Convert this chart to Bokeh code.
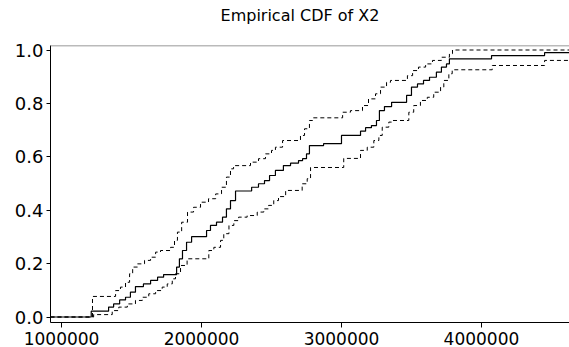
from bokeh.plotting import figure
from bokeh.models import FixedTicker, Span, Range1d, Div
from bokeh.layouts import column
from bokeh.embed import file_html
from bokeh.resources import INLINE

TITLE = "Empirical CDF of X2"
x_limits = [921000, 4629000]
y_limits = [-0.0206, 1.0169]
x_ticks = [1000000, 2000000, 3000000, 4000000]
x_tick_labels = ["1000000", "2000000", "3000000", "4000000"]
y_ticks = [0.0, 0.2, 0.4, 0.6, 0.8, 1.0]
y_tick_labels = ["0.0", "0.2", "0.4", "0.6", "0.8", "1.0"]

# empirical CDF (jump locations and level after each jump)
ecdf_x = [1212000, 1336000, 1372000, 1415000, 1457000, 1492000, 1528000, 1585000,
          1636000, 1686000, 1729000, 1822000, 1842000, 1864000, 1893000, 1929000,
          2036000, 2064000, 2107000, 2150000, 2178000, 2207000, 2243000, 2358000,
          2407000, 2450000, 2486000, 2528000, 2585000, 2636000, 2693000, 2722000,
          2750000, 2771000, 2872000, 3000000, 3136000, 3172000, 3214000, 3250000,
          3271000, 3307000, 3358000, 3465000, 3500000, 3543000, 3586000, 3629000,
          3678000, 3714000, 3750000, 3771000, 4072000, 4451000]
ecdf_y = [0.022, 0.037, 0.049, 0.064, 0.074, 0.093, 0.114, 0.124,
          0.137, 0.149, 0.159, 0.187, 0.218, 0.249, 0.280, 0.301,
          0.324, 0.343, 0.355, 0.374, 0.405, 0.436, 0.472, 0.486,
          0.499, 0.511, 0.530, 0.549, 0.567, 0.576, 0.586, 0.593,
          0.611, 0.642, 0.649, 0.680, 0.696, 0.709, 0.717, 0.736,
          0.773, 0.788, 0.804, 0.830, 0.861, 0.873, 0.886, 0.898,
          0.917, 0.936, 0.948, 0.967, 0.979, 0.990]

# upper confidence band
upper_x = [1221000, 1386000, 1421000, 1457000, 1486000, 1508000, 1543000, 1593000,
           1636000, 1672000, 1707000, 1779000, 1807000, 1828000, 1858000, 1900000,
           1943000, 1993000, 2050000, 2101000, 2143000, 2178000, 2207000, 2229000,
           2350000, 2407000, 2457000, 2500000, 2528000, 2579000, 2707000, 2736000,
           2771000, 2793000, 3008000, 3064000, 3150000, 3193000, 3243000, 3279000,
           3322000, 3350000, 3471000, 3508000, 3550000, 3601000, 3650000, 3714000,
           3771000, 3793000]
upper_y = [0.077, 0.099, 0.112, 0.130, 0.162, 0.187, 0.199, 0.212,
           0.224, 0.243, 0.249, 0.261, 0.287, 0.318, 0.355, 0.393,
           0.411, 0.430, 0.443, 0.461, 0.486, 0.524, 0.555, 0.567,
           0.580, 0.593, 0.611, 0.624, 0.636, 0.661, 0.680, 0.705,
           0.736, 0.746, 0.767, 0.773, 0.792, 0.817, 0.836, 0.861,
           0.879, 0.886, 0.904, 0.923, 0.936, 0.948, 0.961, 0.973,
           0.986, 1.000]

# lower confidence band
lower_x = [1229000, 1362000, 1409000, 1470000, 1528000, 1577000, 1623000, 1672000,
           1719000, 1755000, 1791000, 1814000, 1850000, 1897000, 2052000, 2088000,
           2136000, 2159000, 2196000, 2231000, 2265000, 2326000, 2398000, 2445000,
           2479000, 2516000, 2550000, 2601000, 2719000, 2755000, 2779000, 3016000,
           3136000, 3184000, 3231000, 3267000, 3291000, 3338000, 3364000, 3481000,
           3516000, 3564000, 3613000, 3659000, 3708000, 3731000, 3767000, 3791000,
           4077000, 4451000]
lower_y = [0.009, 0.024, 0.037, 0.049, 0.062, 0.074, 0.087, 0.099,
           0.112, 0.124, 0.143, 0.162, 0.193, 0.218, 0.249, 0.261,
           0.287, 0.312, 0.343, 0.361, 0.374, 0.380, 0.393, 0.405,
           0.418, 0.436, 0.451, 0.474, 0.499, 0.518, 0.560, 0.594,
           0.624, 0.636, 0.661, 0.680, 0.711, 0.730, 0.736, 0.767,
           0.792, 0.811, 0.823, 0.842, 0.861, 0.886, 0.911, 0.926,
           0.942, 0.961]

FONT = "DejaVu Sans"
TITLE_H = 32

title_div = Div(text=TITLE, width=538, height=TITLE_H, margin=(0, 0, 0, 31),
                styles={"font-family": FONT, "font-size": "16px", "color": "black",
                        "text-align": "center", "line-height": f"{TITLE_H}px"})

p = figure(width=569, height=347 - TITLE_H, output_backend="svg", toolbar_location=None,
           x_range=Range1d(*x_limits), y_range=Range1d(*y_limits),
           min_border_left=50, min_border_right=0, min_border_top=45 - TITLE_H,
           min_border_bottom=25, margin=(0, 0, 0, 0))
p.title = None
p.background_fill_color = "white"
p.border_fill_color = "white"
p.outline_line_color = None
p.grid.visible = False


def steps(xs, ys):
    return [x_limits[0]] + xs + [x_limits[1]], [0.0] + ys + [ys[-1]]


sx, sy = steps(ecdf_x, ecdf_y)
ux, uy = steps(upper_x, upper_y)
lx, ly = steps(lower_x, lower_y)

p.step(ux, uy, mode="after", line_color="black", line_width=1, line_dash="4 3")
p.step(lx, ly, mode="after", line_color="black", line_width=1, line_dash="4 3")
p.step(sx, sy, mode="after", line_color="black", line_width=1.2)

p.add_layout(Span(location=y_limits[1], dimension="width", line_color="#777777", line_width=1.5))

for ax in (p.xaxis[0], p.yaxis[0]):
    ax.axis_line_color = "black"
    ax.major_tick_line_color = "black"
    ax.minor_tick_line_color = None
    ax.major_tick_in = 0
    ax.major_label_text_font = FONT
    ax.major_label_text_color = "black"

p.xaxis.ticker = FixedTicker(ticks=x_ticks)
p.xaxis.major_label_overrides = dict(zip(x_ticks, x_tick_labels))
p.xaxis.major_label_text_font_size = "17px"
p.xaxis.major_tick_out = 5
p.xaxis.major_label_standoff = 4

p.yaxis.ticker = FixedTicker(ticks=y_ticks)
p.yaxis.major_label_overrides = dict(zip(y_ticks, y_tick_labels))
p.yaxis.major_label_text_font_size = "18px"
p.yaxis.major_tick_out = 4
p.yaxis.major_label_standoff = 3

layout = column(title_div, p, spacing=0, margin=(0, 0, 0, 0))

open("out.html", "w").write(file_html(layout, INLINE))
